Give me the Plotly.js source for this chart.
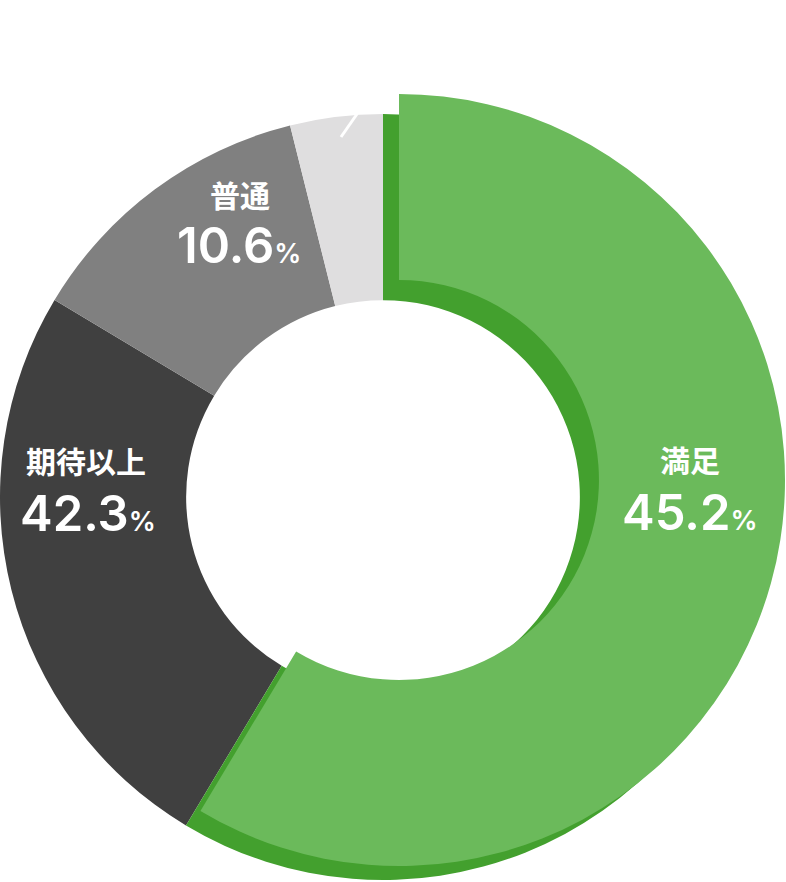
<!DOCTYPE html>
<html>
<head>
<meta charset="utf-8">
<script src="https://cdn.plot.ly/plotly-3.0.1.min.js"></script>
<style>
  html,body{margin:0;padding:0;background:#fff;}
  #chart{width:786px;height:882px;}
</style>
</head>
<body>
<div id="chart"></div>
<script>
// categories and what is printed on each slice
var labels   = ["満足", "期待以上", "普通", "その他"];
var pctText  = ["45.2", "42.3", "10.6", ""];
// arc share of each slice as drawn in the picture (%)
var sliceShare = [58.6, 25.0, 12.5, 3.9];

var W = 786, H = 882;
var clear = "rgba(0,0,0,0)";
var grays  = [clear, "#404040", "#808080", "#dfdedf"];
var back   = ["#43a02e", clear, clear, clear];
var front  = ["#6bba5b", clear, clear, clear];

// pixel helpers (layout only)
function px(x){return x/W}
function py(y){return 1-y/H}
function dom(cx,cy,r){return {x:[px(cx-r),px(cx+r)], y:[py(cy+r),py(cy-r)]}}

function ring(colors,d,hole){
  return {
    type:"pie", labels:labels, values:sliceShare, sort:false,
    direction:"clockwise", rotation:0, hole:hole,
    marker:{colors:colors, line:{width:0}},
    textinfo:"none", hoverinfo:"skip", domain:d, showlegend:false
  };
}

var data = [
  ring(grays, dom(383,497,383), 0.514),
  ring(back,  dom(383,497,383), 0.514),
  ring(front, dom(399,480,386), 0.518)
];

var fontJ = "Noto Sans CJK JP, sans-serif";
var fontN = "Inter, Noto Sans, sans-serif";
var spots = [[690,459,690,512],[86,460,88,513],[240,194,239,246]];
var ann = [];
for (var i=0;i<3;i++){
  var s=spots[i];
  ann.push({xref:"paper",yref:"paper",x:px(s[0]),y:py(s[1]),xanchor:"center",yanchor:"middle",
    showarrow:false,text:"<b>"+labels[i]+"</b>",font:{family:fontJ,size:30,color:"#fff"}});
  ann.push({xref:"paper",yref:"paper",x:px(s[2]),y:py(s[3]),xanchor:"center",yanchor:"middle",
    showarrow:false,text:pctText[i]+"<span style='font-size:27px'>%</span>",
    font:{family:fontN,size:49,color:"#fff",weight:600}});
}

var layout = {
  width:W, height:H, margin:{l:0,r:0,t:0,b:0},
  paper_bgcolor:"#fff", plot_bgcolor:"#fff",
  annotations:ann,
  shapes:[{type:"line",xref:"paper",yref:"paper",x0:px(341),y0:py(137),x1:px(357),y1:py(114),
    line:{color:"#fff",width:3}}]
};

Plotly.newPlot("chart", data, layout, {staticPlot:true});
</script>
</body>
</html>
